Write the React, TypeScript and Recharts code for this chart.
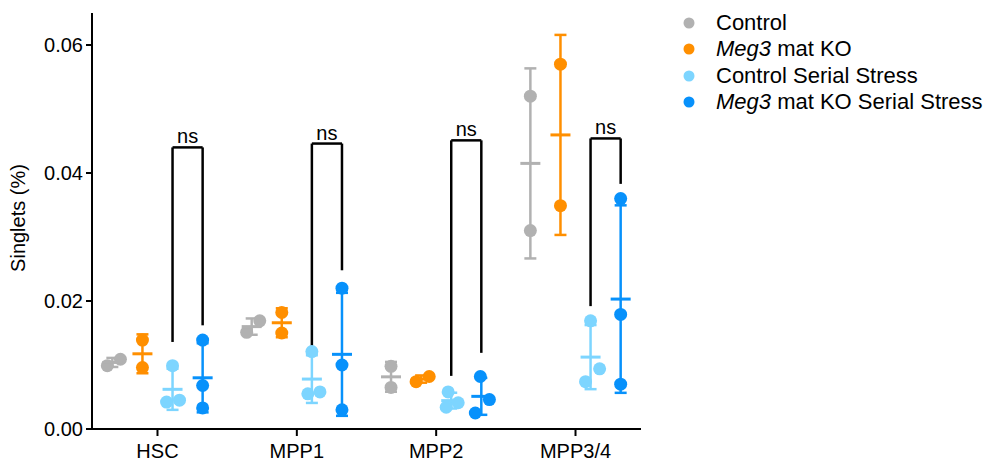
import React from 'react';
import { ComposedChart, Scatter, XAxis, YAxis, ErrorBar, ReferenceLine, Legend, Label } from 'recharts';

const categories = ['HSC', 'MPP1', 'MPP2', 'MPP3/4'];
const yTicks = [0, 0.02, 0.04, 0.06];

// individual mice per cell type
const control = [[0.0099, 0.0109], [0.0151, 0.0169], [0.0098, 0.0065], [0.052, 0.031]];
const meg3Ko = [[0.0139, 0.0096], [0.0182, 0.015], [0.0074, 0.0082], [0.057, 0.0349]];
const controlStress = [[0.0099, 0.0042, 0.0045], [0.0121, 0.0055, 0.0058], [0.0058, 0.0041, 0.0034], [0.0169, 0.0094, 0.0074]];
const meg3KoStress = [[0.0139, 0.0068, 0.0033], [0.022, 0.01, 0.003], [0.0082, 0.0046, 0.0025], [0.036, 0.0179, 0.007]];

// sideways scatter of each dot, in category units
const controlJitter = [[-0.036, 0.058], [-0.036, 0.058], [0, 0], [0, 0]];
const meg3KoJitter = [[0, 0], [0, 0], [-0.036, 0.058], [0, 0]];
const controlStressJitter = [[0, -0.043, 0.05], [0, -0.029, 0.058], [-0.022, 0.05, -0.036], [0, 0.065, -0.036]];
const meg3KoStressJitter = [[0, 0, 0], [0, 0, 0], [-0.007, 0.058, -0.043], [0, 0, 0]];

// ns brackets: top, left leg end, right leg end
const bracketTop = [0.044, 0.0446, 0.0451, 0.0454];
const bracketLeft = [0.0136, 0.0122, 0.0083, 0.0192];
const bracketRight = [0.0162, 0.0248, 0.0119, 0.0383];

const groupOffset = [-0.324, -0.108, 0.108, 0.324];

const series = [
  { name: 'Control', italic: '', values: control, jitter: controlJitter, color: '#b1b1b1' },
  { name: ' mat KO', italic: 'Meg3', values: meg3Ko, jitter: meg3KoJitter, color: '#ff8f00' },
  { name: 'Control Serial Stress', italic: '', values: controlStress, jitter: controlStressJitter, color: '#7dd5ff' },
  { name: ' mat KO Serial Stress', italic: 'Meg3', values: meg3KoStress, jitter: meg3KoStressJitter, color: '#0791fb' },
];

const pointsOf = (s: typeof series[0], si: number) =>
  s.values.flatMap((vals, ci) => vals.map((v, i) => ({ x: ci + groupOffset[si] + s.jitter[ci][i], y: v })));

const summaryOf = (s: typeof series[0], si: number) =>
  s.values.map((vals, ci) => {
    const mean = vals.reduce((a, b) => a + b, 0) / vals.length;
    const sd = Math.sqrt(vals.reduce((a, b) => a + (b - mean) ** 2, 0) / (vals.length - 1));
    return { x: ci + groupOffset[si], y: mean, sd };
  });

const font = '"Liberation Sans", Arial, Helvetica, sans-serif';

const LegendBox = () => (
  <div style={{ fontFamily: font, fontSize: 22, color: '#000', whiteSpace: 'nowrap' }}>
    {series.map((s) => (
      <div key={s.italic + s.name} style={{ display: 'flex', alignItems: 'center', height: 26.3 }}>
        <svg width={22} height={14} style={{ marginRight: 16 }}>
          <circle cx={11} cy={7} r={5.5} fill={s.color} />
        </svg>
        <span style={{ whiteSpace: 'pre' }}>
          {s.italic && <i>{s.italic}</i>}
          {s.name}
        </span>
      </div>
    ))}
  </div>
);

export default function App() {
  return (
    <div style={{ position: 'absolute', left: 0, top: 0, background: '#fff', fontFamily: font }}>
      <ComposedChart width={987} height={462} margin={{ top: 13, right: 346, bottom: 0, left: 0 }}>
        <XAxis
          type="number"
          dataKey="x"
          domain={[-0.47, 3.47]}
          ticks={[0, 1, 2, 3]}
          interval={0}
          tickFormatter={(v: number) => categories[v]}
          height={33}
          tickSize={7}
          tickMargin={8}
          tick={{ fill: '#000', fontSize: 20, fontFamily: font }}
          axisLine={{ stroke: '#000', strokeWidth: 2 }}
          tickLine={{ stroke: '#000', strokeWidth: 2 }}
          allowDataOverflow
        />
        <YAxis
          type="number"
          dataKey="y"
          domain={[0, 0.065]}
          ticks={yTicks}
          interval={0}
          tickFormatter={(v: number) => v.toFixed(2)}
          width={92}
          tickSize={6}
          tickMargin={3}
          tick={{ fill: '#000', fontSize: 20, fontFamily: font }}
          axisLine={{ stroke: '#000', strokeWidth: 2 }}
          tickLine={{ stroke: '#000', strokeWidth: 2 }}
          allowDataOverflow
        >
          <Label
            content={({ viewBox }: any) => {
              const cx = viewBox.x + 18;
              const cy = viewBox.y + viewBox.height / 2 - 3;
              return (
                <text x={cx} y={cy} transform={`rotate(-90 ${cx} ${cy})`} textAnchor="middle" dominantBaseline="central" fontSize={20} fontFamily={font} fill="#000">
                  Singlets (%)
                </text>
              );
            }}
          />
        </YAxis>
        {series.map((s, si) => (
          <Scatter
            key={'p' + si}
            data={pointsOf(s, si)}
            isAnimationActive={false}
            shape={(p: any) => <circle cx={p.cx} cy={p.cy} r={6.5} fill={s.color} />}
          />
        ))}
        {series.map((s, si) => (
          <Scatter
            key={'m' + si}
            data={summaryOf(s, si)}
            isAnimationActive={false}
            shape={(p: any) => (
              <line x1={p.cx - 10} x2={p.cx + 10} y1={p.cy} y2={p.cy} stroke={s.color} strokeWidth={3} />
            )}
          >
            <ErrorBar dataKey="sd" direction="y" width={6} stroke={s.color} strokeWidth={2.5} isAnimationActive={false} />
          </Scatter>
        ))}
        {categories.map((c, ci) => {
          const xl = ci + groupOffset[2];
          const xr = ci + groupOffset[3];
          const line = { stroke: '#000', strokeWidth: 2.5, ifOverflow: 'visible' as const };
          return (
            <React.Fragment key={'b' + c}>
              <ReferenceLine {...line} segment={[{ x: xl, y: bracketLeft[ci] }, { x: xl, y: bracketTop[ci] }]} />
              <ReferenceLine {...line} segment={[{ x: xr, y: bracketRight[ci] }, { x: xr, y: bracketTop[ci] }]} />
              <ReferenceLine
                {...line}
                segment={[{ x: xl, y: bracketTop[ci] }, { x: xr, y: bracketTop[ci] }]}
                label={{ value: 'ns', position: 'top', offset: 4, fill: '#000', fontSize: 20, fontFamily: font }}
              />
            </React.Fragment>
          );
        })}
        <Legend
          layout="vertical"
          verticalAlign="middle"
          align="center"
          content={() => <LegendBox />}
          wrapperStyle={{ position: 'absolute', top: 10, left: 678, width: 'auto', height: 'auto' }}
        />
      </ComposedChart>
    </div>
  );
}
